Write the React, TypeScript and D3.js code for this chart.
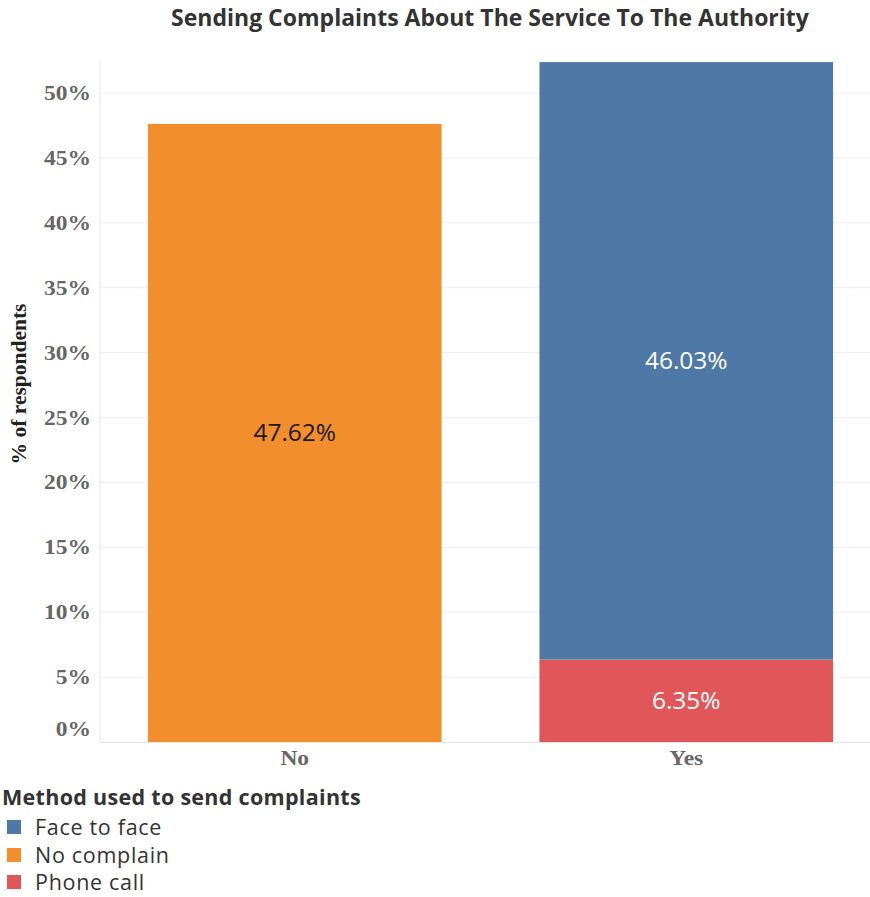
import React from "react";
import * as d3 from "d3";

const categories = ["No", "Yes"];
const seriesNames = ["No complain", "Phone call", "Face to face"];
const noComplainValues = [47.62, 0];
const phoneCallValues = [0, 6.35];
const faceToFaceValues = [0, 46.03];
const yTicks = [0, 5, 10, 15, 20, 25, 30, 35, 40, 45, 50];
const legendItems = ["Face to face", "No complain", "Phone call"];
const colors: Record<string, string> = {
  "Face to face": "#4e79a7",
  "No complain": "#f28e2b",
  "Phone call": "#e15759",
};
const labelColors: Record<string, string> = {
  "Face to face": "#ffffff",
  "No complain": "#1a1a1a",
  "Phone call": "#ffffff",
};

const W = 870;
const H = 897;
const sans = "'Open Sans', 'Noto Sans', sans-serif";
const serif = "'Liberation Serif', 'Times New Roman', serif";

export default function App() {
  const y = d3.scaleLinear().domain([0, 50]).range([742, 93]);
  const x = d3
    .scaleBand<string>()
    .domain(categories)
    .range([99, 882])
    .paddingInner(0.25)
    .paddingOuter(0.125);

  const table = categories.map((c, i) => ({
    cat: c,
    "No complain": noComplainValues[i],
    "Phone call": phoneCallValues[i],
    "Face to face": faceToFaceValues[i],
  }));
  const stacked = d3.stack<any>().keys(seriesNames)(table);
  const legendBaselines = [835, 863, 890];

  return (
    <svg
      width={W}
      height={H}
      style={{ position: "absolute", left: 0, top: 0, background: "#fff" }}
    >
      <text
        x={490}
        y={26}
        textAnchor="middle"
        fontFamily={sans}
        fontWeight={700}
        fontSize={23}
        fill="#333"
      >
        Sending Complaints About The Service To The Authority
      </text>

      {yTicks.map((t) => (
        <g key={t}>
          {t > 0 && (
            <line x1={100} x2={870} y1={y(t)} y2={y(t)} stroke="#eeeeee" strokeWidth={1} />
          )}
          <text
            transform={`translate(91,${t === 0 ? y(t) - 6 : y(t) + 7}) scale(1.12,1)`}
            textAnchor="end"
            fontFamily={serif}
            fontWeight={700}
            fontSize={21}
            fill="#666"
          >
            {t}%
          </text>
        </g>
      ))}
      <line x1={100} x2={100} y1={60} y2={742} stroke="#e6e6e6" />
      <line x1={100} x2={870} y1={742.5} y2={742.5} stroke="#e6e6e6" />

      {stacked.map((s) =>
        s.map((d, i) => {
          const v = d[1] - d[0];
          if (v <= 0) return null;
          const key = s.key;
          const cat = categories[i];
          return (
            <g key={key + cat}>
              <rect
                x={x(cat)}
                width={x.bandwidth()}
                y={y(d[1])}
                height={y(d[0]) - y(d[1])}
                fill={colors[key]}
              />
              <text
                x={(x(cat) as number) + x.bandwidth() / 2}
                y={y((d[0] + d[1]) / 2) + 8}
                textAnchor="middle"
                fontFamily={sans}
                fontSize={24.5}
                fill={labelColors[key]}
              >
                {v.toFixed(2)}%
              </text>
            </g>
          );
        })
      )}

      {categories.map((c) => (
        <text
          key={c}
          transform={`translate(${(x(c) as number) + x.bandwidth() / 2},765) scale(1.12,1)`}
          textAnchor="middle"
          fontFamily={serif}
          fontWeight={700}
          fontSize={21}
          fill="#666"
        >
          {c}
        </text>
      ))}

      <text
        transform="translate(26,384) rotate(-90)"
        textAnchor="middle"
        fontFamily={serif}
        fontWeight={700}
        fontSize={21.5}
        fill="#222"
      >
        % of respondents
      </text>

      <text
        x={2}
        y={805}
        fontFamily={sans}
        fontWeight={700}
        fontSize={21.5}
        letterSpacing={0.3}
        fill="#333"
      >
        Method used to send complaints
      </text>
      {legendItems.map((item, i) => (
        <g key={item}>
          <rect x={7} y={legendBaselines[i] - 15} width={14} height={14} fill={colors[item]} />
          <text
            x={35}
            y={legendBaselines[i]}
            fontFamily={sans}
            fontSize={21.5}
            letterSpacing={0.7}
            fill="#333"
          >
            {item}
          </text>
        </g>
      ))}
    </svg>
  );
}
